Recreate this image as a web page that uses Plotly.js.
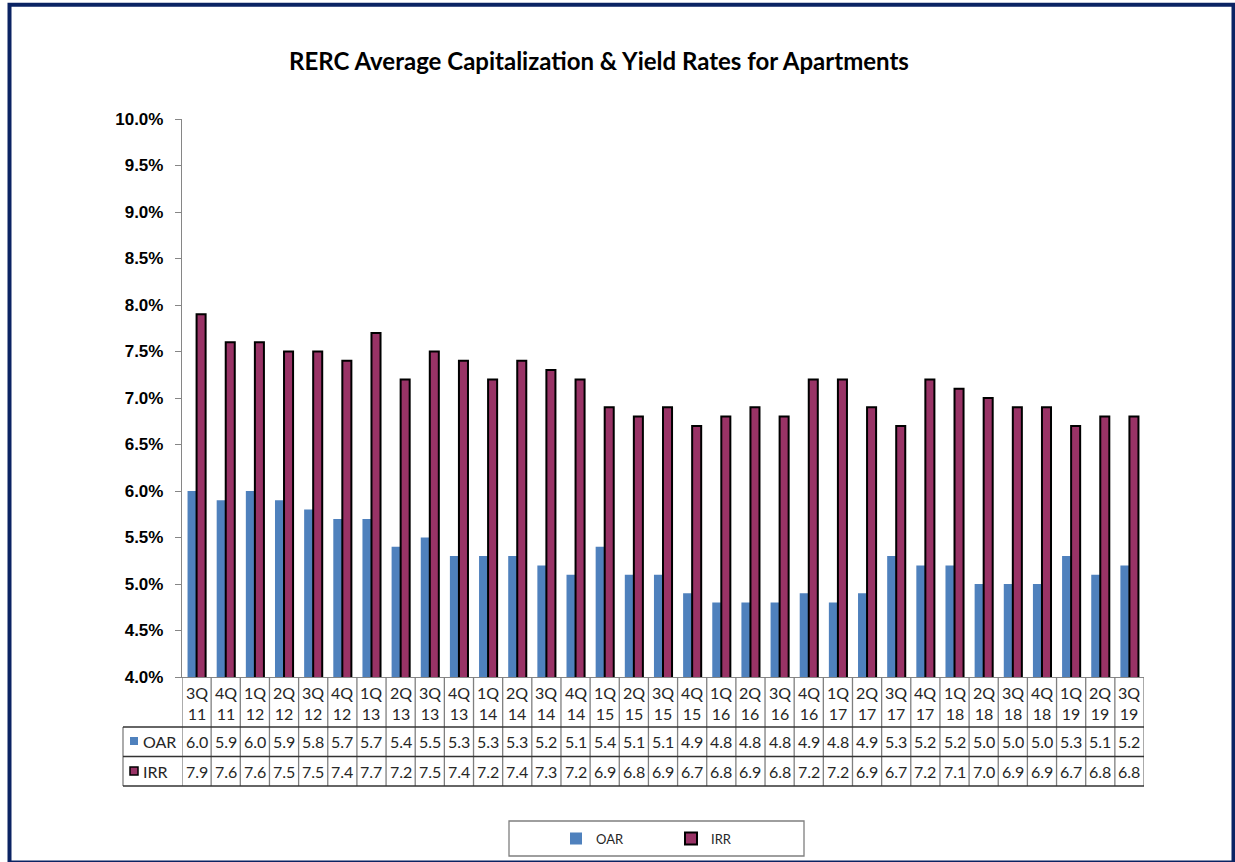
<!DOCTYPE html>
<html>
<head>
<meta charset="utf-8">
<script src="https://cdn.plot.ly/plotly-3.0.1.min.js"></script>
<style>
  html, body { margin: 0; padding: 0; background: #ffffff; }
  #chart { width: 1235px; height: 862px; }
</style>
</head>
<body>
<div id="chart"></div>
<script>
// ---- Data ----
const quarters = ['3Q','4Q','1Q','2Q','3Q','4Q','1Q','2Q','3Q','4Q','1Q','2Q','3Q','4Q','1Q','2Q','3Q',
                  '4Q','1Q','2Q','3Q','4Q','1Q','2Q','3Q','4Q','1Q','2Q','3Q','4Q','1Q','2Q','3Q'];
const years    = ['11','11','12','12','12','12','13','13','13','13','14','14','14','14','15','15','15',
                  '15','16','16','16','16','17','17','17','17','18','18','18','18','19','19','19'];
const oar = [6.0,5.9,6.0,5.9,5.8,5.7,5.7,5.4,5.5,5.3,5.3,5.3,5.2,5.1,5.4,5.1,5.1,
             4.9,4.8,4.8,4.8,4.9,4.8,4.9,5.3,5.2,5.2,5.0,5.0,5.0,5.3,5.1,5.2];
const irr = [7.9,7.6,7.6,7.5,7.5,7.4,7.7,7.2,7.5,7.4,7.2,7.4,7.3,7.2,6.9,6.8,6.9,
             6.7,6.8,6.9,6.8,7.2,7.2,6.9,6.7,7.2,7.1,7.0,6.9,6.9,6.7,6.8,6.8];
const seriesNames = ['OAR', 'IRR'];
const yTicks = [4.0,4.5,5.0,5.5,6.0,6.5,7.0,7.5,8.0,8.5,9.0,9.5,10.0];
const yTickText = ['4.0%','4.5%','5.0%','5.5%','6.0%','6.5%','7.0%','7.5%','8.0%','8.5%','9.0%','9.5%','10.0%'];

const categories = quarters.map((q, i) => q + ' ' + years[i]);

// ---- Geometry helpers (pixel -> paper) ----
const W = 1235, H = 862;
const L = 182, R = 1144, T = 119, B = 677;
const px = x => (x - L) / (R - L);
const py = y => (B - y) / (B - T);

const OAR_COLOR = '#4F81BD';
const IRR_COLOR = '#993366';
const TXT = '#262626';
const tableFont = { family: 'Lato, Calibri, sans-serif', size: 16, color: TXT };

const traces = [
  { type: 'bar', name: seriesNames[0], x: categories, y: oar,
    marker: { color: OAR_COLOR, line: { width: 0 } }, hoverinfo: 'x+y' },
  { type: 'bar', name: seriesNames[1], x: categories, y: irr,
    marker: { color: IRR_COLOR, line: { color: '#000000', width: 2 } }, hoverinfo: 'x+y' }
];

const shapes = [];
const annotations = [];
const n = categories.length;

// table rows (pixel y positions)
const yHead = 677, yRow1 = 727, yRow2 = 756.5, yRow3 = 786;
const xLeft = 123;

// vertical lines at category boundaries
for (let k = 0; k <= n; k++) {
  shapes.push({ type: 'line', xref: 'x', yref: 'paper', x0: k - 0.5, x1: k - 0.5,
    y0: py(yHead), y1: py(yRow3), line: { color: '#7f7f7f', width: 1.3 } });
}
// left column vertical line
shapes.push({ type: 'line', xref: 'paper', yref: 'paper', x0: px(xLeft), x1: px(xLeft),
  y0: py(yRow1), y1: py(yRow3), line: { color: '#7f7f7f', width: 1.3 } });
// horizontal lines
[yRow1, yRow2, yRow3].forEach(yy => {
  shapes.push({ type: 'line', xref: 'paper', yref: 'paper', x0: px(xLeft), x1: px(R),
    y0: py(yy), y1: py(yy), line: { color: '#333333', width: 1.3 } });
});

// header labels and values
for (let i = 0; i < n; i++) {
  annotations.push({ xref: 'x', yref: 'paper', x: categories[i], y: py((yHead + yRow1) / 2 + 1),
    text: quarters[i] + '<br>' + years[i], showarrow: false, font: tableFont,
    xanchor: 'center', yanchor: 'middle', align: 'center' });
  annotations.push({ xref: 'x', yref: 'paper', x: categories[i], y: py((yRow1 + yRow2) / 2),
    text: oar[i].toFixed(1), showarrow: false, font: tableFont, xanchor: 'center', yanchor: 'middle' });
  annotations.push({ xref: 'x', yref: 'paper', x: categories[i], y: py((yRow2 + yRow3) / 2),
    text: irr[i].toFixed(1), showarrow: false, font: tableFont, xanchor: 'center', yanchor: 'middle' });
}

// row labels with legend keys
annotations.push({ xref: 'paper', yref: 'paper', x: px(141), y: py((yRow1 + yRow2) / 2),
  text: seriesNames[0], showarrow: false, font: tableFont, xanchor: 'left', yanchor: 'middle' });
annotations.push({ xref: 'paper', yref: 'paper', x: px(141), y: py((yRow2 + yRow3) / 2),
  text: seriesNames[1], showarrow: false, font: tableFont, xanchor: 'left', yanchor: 'middle' });
shapes.push({ type: 'rect', xref: 'paper', yref: 'paper', x0: px(130), x1: px(138),
  y0: py(737), y1: py(745), fillcolor: OAR_COLOR, line: { width: 0 } });
shapes.push({ type: 'rect', xref: 'paper', yref: 'paper', x0: px(130), x1: px(138),
  y0: py(767), y1: py(775), fillcolor: IRR_COLOR, line: { color: '#000', width: 1.5 } });

// legend box
shapes.push({ type: 'rect', xref: 'paper', yref: 'paper', x0: px(509), x1: px(804),
  y0: py(821), y1: py(856), fillcolor: 'rgba(0,0,0,0)', line: { color: '#7f7f7f', width: 1.3 } });

// outer navy frame
shapes.push({ type: 'rect', xref: 'paper', yref: 'paper', x0: px(9.5), x1: px(1233.5),
  y0: py(4.7), y1: py(862.5), fillcolor: 'rgba(0,0,0,0)', line: { color: '#0B2363', width: 4 } });

const layout = {
  width: W, height: H,
  paper_bgcolor: '#ffffff', plot_bgcolor: '#ffffff',
  margin: { l: L, r: W - R, t: T, b: H - B, autoexpand: false },
  title: {
    text: 'RERC Average Capitalization & Yield Rates for Apartments',
    xref: 'container', yref: 'container', x: 599 / W, y: 1 - 62 / H,
    xanchor: 'center', yanchor: 'middle',
    font: { family: 'Lato, Calibri, sans-serif', size: 24, color: '#000000', weight: 'bold' }
  },
  barmode: 'group', bargap: 0.38, bargroupgap: 0,
  xaxis: {
    type: 'category', showticklabels: false, ticks: '', showgrid: false, zeroline: false,
    showline: true, linecolor: '#868686', linewidth: 1.3, range: [-0.5, n - 0.5], fixedrange: true
  },
  yaxis: {
    range: [4, 10], tickmode: 'array', tickvals: yTicks, ticktext: yTickText,
    showgrid: false, zeroline: false, showline: true, linecolor: '#868686', linewidth: 1.3,
    ticks: 'outside', ticklen: 6, tickcolor: '#868686', tickwidth: 1.3, ticklabelstandoff: 8,
    tickfont: { family: 'Liberation Sans, Arial, sans-serif', size: 17, color: '#000000', weight: 'bold' },
    fixedrange: true
  },
  showlegend: true,
  legend: {
    orientation: 'h', x: px(671), xanchor: 'center', y: py(838.5), yanchor: 'middle',
    font: { family: 'Lato, Calibri, sans-serif', size: 13, color: TXT },
    bgcolor: 'rgba(0,0,0,0)', borderwidth: 0,
    entrywidth: 70, entrywidthmode: 'pixels', itemwidth: 30
  },
  shapes: shapes,
  annotations: annotations
};

Plotly.newPlot('chart', traces, layout, { displayModeBar: false, responsive: false });
</script>
</body>
</html>
